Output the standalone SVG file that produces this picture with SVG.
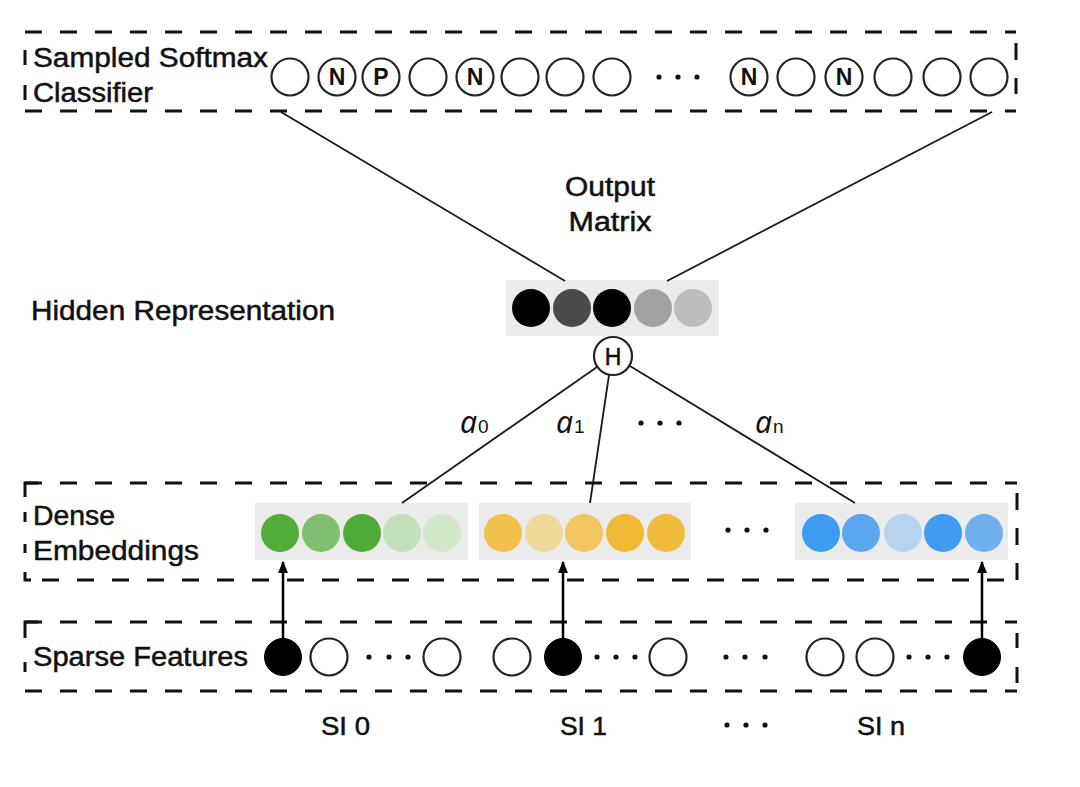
<svg xmlns="http://www.w3.org/2000/svg" width="1080" height="787" viewBox="0 0 1080 787">
<style>
.bg{fill:#ffffff}
.dash{fill:none;stroke:#111;stroke-width:3;stroke-dasharray:17 18}
.tick{fill:none;stroke:#111;stroke-width:3}
.lbl{font-family:"Liberation Sans",Arial,sans-serif;font-size:27px;fill:#111;stroke:#111;stroke-width:0.5}
.si{font-family:"Liberation Sans",Arial,sans-serif;font-size:25px;fill:#111;stroke:#111;stroke-width:0.5}
.oc{fill:#fff;stroke:#222;stroke-width:2.2}
.bc{fill:#000;stroke:#000;stroke-width:1}
.let{font-family:"Liberation Sans",Arial,sans-serif;font-size:23px;font-weight:bold;fill:#111;text-anchor:middle}
.panel{fill:#ebebeb}
.conn{stroke:#1a1a1a;stroke-width:1.8;fill:none}
.arr{stroke:#000;stroke-width:2.5;fill:none}
.dot{fill:#111}
.al{font-family:"Noto Sans","DejaVu Sans",sans-serif;font-style:italic;font-size:30px;fill:#111}
.sub{font-family:"Liberation Sans",Arial,sans-serif;font-size:19px;fill:#111}
</style>
<defs>
<marker id="ah" viewBox="0 0 12 10" refX="11" refY="5" markerWidth="12" markerHeight="10" markerUnits="userSpaceOnUse" orient="auto">
<path d="M0,0 L12,5 L0,10 Z" fill="#000"/>
</marker>
</defs>
<rect class="bg" x="0" y="0" width="1080" height="787"/>

<g id="classifier">
<line class="dash" x1="25" y1="32" x2="1016" y2="32"/>
<line class="dash" x1="25" y1="111" x2="1016" y2="111"/>
<line class="tick" x1="25" y1="50" x2="25" y2="65"/>
<line class="tick" x1="25" y1="85" x2="25" y2="100"/>
<line class="tick" x1="1016" y1="43" x2="1016" y2="60"/>
<line class="tick" x1="1016" y1="78" x2="1016" y2="94"/>
<text class="lbl" x="33" y="67" textLength="235" lengthAdjust="spacingAndGlyphs">Sampled Softmax</text>
<text class="lbl" x="33" y="102" textLength="120" lengthAdjust="spacingAndGlyphs">Classifier</text>
<circle class="oc" cx="290" cy="77" r="18.5"/>
<circle class="oc" cx="337" cy="77" r="18.5"/><text class="let" x="337" y="85">N</text>
<circle class="oc" cx="381" cy="77" r="18.5"/><text class="let" x="381" y="85">P</text>
<circle class="oc" cx="428" cy="77" r="18.5"/>
<circle class="oc" cx="475" cy="77" r="18.5"/><text class="let" x="475" y="85">N</text>
<circle class="oc" cx="520" cy="77" r="18.5"/>
<circle class="oc" cx="565" cy="77" r="18.5"/>
<circle class="oc" cx="612" cy="77" r="18.5"/>
<circle class="dot" cx="659" cy="77" r="2.6"/>
<circle class="dot" cx="678" cy="77" r="2.6"/>
<circle class="dot" cx="697" cy="77" r="2.6"/>
<circle class="oc" cx="749" cy="77" r="18.5"/><text class="let" x="749" y="85">N</text>
<circle class="oc" cx="796" cy="77" r="18.5"/>
<circle class="oc" cx="844" cy="77" r="18.5"/><text class="let" x="844" y="85">N</text>
<circle class="oc" cx="893" cy="77" r="18.5"/>
<circle class="oc" cx="942" cy="77" r="18.5"/>
<circle class="oc" cx="989" cy="77" r="18.5"/>
</g>

<g id="output-matrix">
<text class="lbl" x="610" y="196" text-anchor="middle" textLength="90" lengthAdjust="spacingAndGlyphs">Output</text>
<text class="lbl" x="610" y="231" text-anchor="middle" textLength="83" lengthAdjust="spacingAndGlyphs">Matrix</text>
</g>

<g id="hidden">
<text class="lbl" x="31" y="320" textLength="304" lengthAdjust="spacingAndGlyphs">Hidden Representation</text>
<rect class="panel" x="506" y="280" width="213" height="56"/>
<circle cx="531" cy="308" r="19" fill="#000"/>
<circle cx="572" cy="308" r="19" fill="#4a4a4a"/>
<circle cx="612" cy="308" r="19" fill="#000"/>
<circle cx="653" cy="308" r="19" fill="#a1a1a1"/>
<circle cx="693" cy="308" r="19" fill="#bdbdbd"/>
</g>

<g id="H">
<circle class="oc" cx="613" cy="356" r="19"/>
<text x="613" y="364.5" text-anchor="middle" font-family="Liberation Sans,Arial,sans-serif" font-size="23" fill="#111" stroke="#111" stroke-width="0.5">H</text>
</g>

<g id="weights">
<text class="al" x="460" y="433">a</text><text class="sub" x="478" y="433">0</text>
<text class="al" x="556" y="433">a</text><text class="sub" x="574" y="433">1</text>
<circle class="dot" cx="641" cy="423" r="2.6"/>
<circle class="dot" cx="660" cy="423" r="2.6"/>
<circle class="dot" cx="679" cy="423" r="2.6"/>
<text class="al" x="755" y="433">a</text><text class="sub" x="773" y="433">n</text>
</g>

<g id="dense">
<line class="dash" x1="25" y1="483" x2="1017" y2="483"/>
<line class="dash" x1="42" y1="580" x2="1017" y2="580"/>
<path class="tick" d="M25,497 V483 H38"/>
<line class="tick" x1="25" y1="512" x2="25" y2="522"/>
<line class="tick" x1="25" y1="544" x2="25" y2="553"/>
<path class="tick" d="M25,572 V580 H31"/>
<line class="tick" x1="1017" y1="493" x2="1017" y2="510"/>
<line class="tick" x1="1017" y1="528" x2="1017" y2="545"/>
<line class="tick" x1="1017" y1="563" x2="1017" y2="580"/>
<text class="lbl" x="33" y="525" textLength="82" lengthAdjust="spacingAndGlyphs">Dense</text>
<text class="lbl" x="33" y="560" textLength="166" lengthAdjust="spacingAndGlyphs">Embeddings</text>
</g>

<g id="emb0">
<rect class="panel" x="255" y="503" width="213" height="57"/>
<circle cx="280" cy="533" r="19" fill="#52ad3a"/>
<circle cx="321" cy="533" r="19" fill="#82c071"/>
<circle cx="362" cy="533" r="19" fill="#4fab37"/>
<circle cx="402" cy="533" r="19" fill="#c3e0ba"/>
<circle cx="442" cy="533" r="19" fill="#d0e7ca"/>
</g>
<g id="emb1">
<rect class="panel" x="479" y="503" width="212" height="57"/>
<circle cx="503" cy="533" r="19" fill="#f2c04c"/>
<circle cx="544" cy="533" r="19" fill="#f0d79a"/>
<circle cx="584" cy="533" r="19" fill="#f0c562"/>
<circle cx="625" cy="533" r="19" fill="#f0b936"/>
<circle cx="666" cy="533" r="19" fill="#f0bb3b"/>
</g>
<g id="emb-dots">
<circle class="dot" cx="728" cy="530" r="2.6"/>
<circle class="dot" cx="747" cy="530" r="2.6"/>
<circle class="dot" cx="766" cy="530" r="2.6"/>
</g>
<g id="embn">
<rect class="panel" x="795" y="503" width="213" height="57"/>
<circle cx="821" cy="533" r="19" fill="#3d9bf0"/>
<circle cx="861" cy="533" r="19" fill="#5aa6ef"/>
<circle cx="903" cy="533" r="19" fill="#b6d4ef"/>
<circle cx="943" cy="533" r="19" fill="#3f9cf1"/>
<circle cx="984" cy="533" r="19" fill="#70b0ef"/>
</g>

<g id="sparse">
<line class="dash" x1="25" y1="622" x2="1017" y2="622"/>
<line class="dash" x1="25" y1="691" x2="1017" y2="691"/>
<path class="tick" d="M25,638 V622 H38"/>
<line class="tick" x1="25" y1="662" x2="25" y2="672"/>
<line class="tick" x1="1017" y1="633" x2="1017" y2="648"/>
<line class="tick" x1="1017" y1="667" x2="1017" y2="683"/>
<text class="lbl" x="33" y="666" textLength="215" lengthAdjust="spacingAndGlyphs">Sparse Features</text>
<circle class="bc" cx="283" cy="657" r="18.5"/>
<circle class="oc" cx="329" cy="657" r="18.5"/>
<circle class="dot" cx="369" cy="657" r="2.6"/>
<circle class="dot" cx="389" cy="657" r="2.6"/>
<circle class="dot" cx="408" cy="657" r="2.6"/>
<circle class="oc" cx="442" cy="657" r="18.5"/>
<circle class="oc" cx="512" cy="657" r="18.5"/>
<circle class="bc" cx="563" cy="657" r="18.5"/>
<circle class="dot" cx="597" cy="657" r="2.6"/>
<circle class="dot" cx="616" cy="657" r="2.6"/>
<circle class="dot" cx="635" cy="657" r="2.6"/>
<circle class="oc" cx="668" cy="657" r="18.5"/>
<circle class="dot" cx="726" cy="657" r="2.6"/>
<circle class="dot" cx="745" cy="657" r="2.6"/>
<circle class="dot" cx="765" cy="657" r="2.6"/>
<circle class="oc" cx="825" cy="657" r="18.5"/>
<circle class="oc" cx="875" cy="657" r="18.5"/>
<circle class="dot" cx="909" cy="657" r="2.6"/>
<circle class="dot" cx="928" cy="657" r="2.6"/>
<circle class="dot" cx="947" cy="657" r="2.6"/>
<circle class="bc" cx="982" cy="657" r="18.5"/>
</g>

<g id="si-labels">
<text class="si" x="321" y="735" textLength="49" lengthAdjust="spacingAndGlyphs">SI 0</text>
<text class="si" x="560" y="735" textLength="47" lengthAdjust="spacingAndGlyphs">SI 1</text>
<circle class="dot" cx="727" cy="725" r="2.6"/>
<circle class="dot" cx="746" cy="725" r="2.6"/>
<circle class="dot" cx="765" cy="725" r="2.6"/>
<text class="si" x="857" y="735" textLength="48" lengthAdjust="spacingAndGlyphs">SI n</text>
</g>

<g id="connectors">
<line class="conn" x1="281" y1="112" x2="565" y2="281"/>
<line class="conn" x1="992" y1="112" x2="667" y2="281"/>
<line class="conn" x1="597" y1="367" x2="402" y2="503"/>
<line class="conn" x1="609" y1="375" x2="590" y2="503"/>
<line class="conn" x1="630" y1="366" x2="855" y2="503"/>
<line class="arr" x1="283" y1="640" x2="283" y2="562" marker-end="url(#ah)"/>
<line class="arr" x1="563" y1="640" x2="563" y2="562" marker-end="url(#ah)"/>
<line class="arr" x1="982" y1="640" x2="982" y2="562" marker-end="url(#ah)"/>
</g>
</svg>
